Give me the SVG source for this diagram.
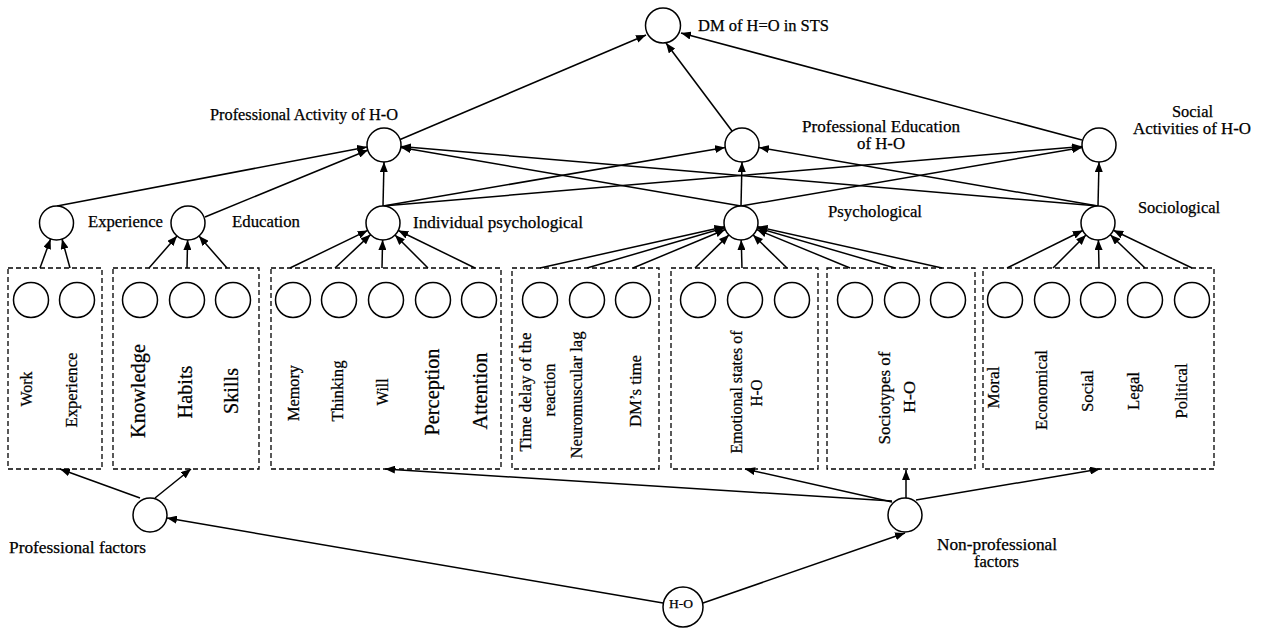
<svg xmlns="http://www.w3.org/2000/svg" width="1262" height="628" viewBox="0 0 1262 628">
  <style>
    .n { fill: #fff; stroke: #000; stroke-width: 1.5; }
    .box { fill: none; stroke: #000; stroke-width: 1.3; stroke-dasharray: 5 3; }
    .t, .v, .vl { font-family: "Liberation Serif", "Times New Roman", serif; fill: #000; stroke: #000; stroke-width: 0.25; }
    .t { font-size: 16px; }
    .v { font-size: 16px; }
    .vl { font-size: 20px; }
    .c line { stroke: #000; stroke-width: 1.5; fill: none; }
    .c line.a { marker-end: url(#ah); }
  </style>
  <defs>
    <marker id="ah" markerUnits="userSpaceOnUse" markerWidth="10" markerHeight="8" refX="10" refY="4" orient="auto">
      <path d="M0,0 L10,4 L0,8 z" fill="#000"/>
    </marker>
  </defs>
  <rect width="1262" height="628" fill="#fff"/>

  <!-- connectors -->
  <g id="connectors" class="c">
    <!-- level 3 -> DM -->
    <line class="a" x1="399" y1="140" x2="646" y2="35"/>
    <line class="a" x1="732" y1="131" x2="666" y2="43"/>
    <line class="a" x1="1082" y1="140" x2="681" y2="33"/>
    <!-- level 2 -> level 3 -->
    <line class="a" x1="57" y1="206" x2="367" y2="147"/>
    <line class="a" x1="205" y1="217" x2="368" y2="150"/>
    <line class="a" x1="383" y1="206" x2="384" y2="162"/>
    <line class="a" x1="383" y1="206" x2="725" y2="147.5"/>
    <line class="a" x1="383" y1="206" x2="1082" y2="146.5"/>
    <line class="a" x1="741" y1="206" x2="401" y2="147.5"/>
    <line class="a" x1="1098" y1="206" x2="401" y2="146.5"/>
    <line class="a" x1="741" y1="206" x2="742" y2="162"/>
    <line class="a" x1="741" y1="206" x2="1082" y2="147.5"/>
    <line class="a" x1="1098" y1="206" x2="1099" y2="162"/>
    <line class="a" x1="1098" y1="206" x2="759" y2="147.5"/>
    <!-- boxes -> level 2 -->
    <line class="a" x1="40" y1="268" x2="50.6" y2="239"/>
    <line class="a" x1="70" y1="268" x2="62" y2="239"/>
    <line class="a" x1="149" y1="268" x2="177" y2="236"/>
    <line class="a" x1="187" y1="268" x2="187.6" y2="240"/>
    <line class="a" x1="227" y1="268" x2="199" y2="236"/>
    <line class="a" x1="290" y1="268" x2="367.7" y2="230.4"/>
    <line class="a" x1="335" y1="268" x2="370.6" y2="234.6"/>
    <line class="a" x1="382" y1="268" x2="382.6" y2="240"/>
    <line class="a" x1="428" y1="268" x2="395" y2="235"/>
    <line class="a" x1="475" y1="268" x2="398.3" y2="230.5"/>
    <line class="a" x1="540" y1="268" x2="724.4" y2="226.7"/>
    <line class="a" x1="587" y1="268" x2="724.7" y2="227.8"/>
    <line class="a" x1="633" y1="268" x2="725.3" y2="229.5"/>
    <line class="a" x1="695" y1="268" x2="728.9" y2="234.9"/>
    <line class="a" x1="742" y1="268" x2="741.2" y2="240"/>
    <line class="a" x1="787" y1="268" x2="753.1" y2="234.9"/>
    <line class="a" x1="850" y1="268" x2="756.7" y2="229.5"/>
    <line class="a" x1="895" y1="268" x2="757.3" y2="227.8"/>
    <line class="a" x1="942" y1="268" x2="757.6" y2="226.7"/>
    <line class="a" x1="1007" y1="268" x2="1082.8" y2="230.5"/>
    <line class="a" x1="1053" y1="268" x2="1086" y2="235"/>
    <line class="a" x1="1099" y1="268" x2="1098.4" y2="240"/>
    <line class="a" x1="1145" y1="268" x2="1110.3" y2="234.8"/>
    <line class="a" x1="1192" y1="268" x2="1113.3" y2="230.3"/>
    <!-- factors -> boxes -->
    <line class="a" x1="140" y1="498" x2="60" y2="469"/>
    <line class="a" x1="155" y1="498" x2="191" y2="469"/>
    <line class="a" x1="892" y1="501" x2="385" y2="469"/>
    <line class="a" x1="892" y1="502" x2="745" y2="469"/>
    <line class="a" x1="906" y1="498" x2="906" y2="470"/>
    <line class="a" x1="916" y1="500" x2="1100" y2="469"/>
    <!-- H-O -> factors -->
    <line class="a" x1="663" y1="603" x2="167" y2="518"/>
    <line class="a" x1="703" y1="603" x2="905" y2="533"/>
  </g>

  <!-- top node -->
  <g id="dm">
    <circle class="n" cx="663" cy="25.5" r="17.5"/>
    <text class="t" x="698" y="31" textLength="131" lengthAdjust="spacingAndGlyphs">DM of H=O in STS</text>
  </g>

  <!-- level 3 nodes -->
  <g id="prof-activity">
    <circle class="n" cx="384" cy="145" r="17"/>
    <text class="t" x="210" y="120" textLength="188" lengthAdjust="spacingAndGlyphs">Professional Activity of H-O</text>
  </g>
  <g id="prof-education">
    <circle class="n" cx="742" cy="145" r="17"/>
    <text class="t" x="802" y="132" textLength="158" lengthAdjust="spacingAndGlyphs">Professional Education</text>
    <text class="t" x="857" y="149" textLength="48" lengthAdjust="spacingAndGlyphs">of H-O</text>
  </g>
  <g id="social-activities">
    <circle class="n" cx="1099" cy="145" r="17"/>
    <text class="t" x="1172" y="117" textLength="41" lengthAdjust="spacingAndGlyphs">Social</text>
    <text class="t" x="1133" y="134" textLength="118" lengthAdjust="spacingAndGlyphs">Activities of H-O</text>
  </g>

  <!-- level 2 nodes -->
  <g id="experience">
    <circle class="n" cx="56.5" cy="223" r="17"/>
    <text class="t" x="88" y="227" textLength="75" lengthAdjust="spacingAndGlyphs">Experience</text>
  </g>
  <g id="education">
    <circle class="n" cx="188" cy="223" r="17"/>
    <text class="t" x="232" y="227" textLength="68" lengthAdjust="spacingAndGlyphs">Education</text>
  </g>
  <g id="individual-psychological">
    <circle class="n" cx="383" cy="223" r="17"/>
    <text class="t" x="413" y="228" textLength="170" lengthAdjust="spacingAndGlyphs">Individual psychological</text>
  </g>
  <g id="psychological">
    <circle class="n" cx="741" cy="223" r="17"/>
    <text class="t" x="828" y="217" textLength="94" lengthAdjust="spacingAndGlyphs">Psychological</text>
  </g>
  <g id="sociological">
    <circle class="n" cx="1098" cy="223" r="17"/>
    <text class="t" x="1138" y="213" textLength="82" lengthAdjust="spacingAndGlyphs">Sociological</text>
  </g>

  <!-- factor groups -->
  <g id="box-work">
    <rect class="box" x="8" y="268" width="94" height="201"/>
    <circle class="n" cx="31" cy="300" r="17.5"/>
    <circle class="n" cx="77" cy="300" r="17.5"/>
    <text class="v" text-anchor="middle" transform="translate(32,389) rotate(-90)" textLength="35" lengthAdjust="spacingAndGlyphs">Work</text>
    <text class="v" text-anchor="middle" transform="translate(77,390) rotate(-90)" textLength="75" lengthAdjust="spacingAndGlyphs">Experience</text>
  </g>
  <g id="box-education">
    <rect class="box" x="113" y="268" width="146" height="201"/>
    <circle class="n" cx="140" cy="300" r="17.5"/>
    <circle class="n" cx="187" cy="300" r="17.5"/>
    <circle class="n" cx="233" cy="300" r="17.5"/>
    <text class="vl" text-anchor="middle" transform="translate(145,391) rotate(-90)" textLength="94" lengthAdjust="spacingAndGlyphs">Knowledge</text>
    <text class="vl" text-anchor="middle" transform="translate(192,392) rotate(-90)" textLength="53" lengthAdjust="spacingAndGlyphs">Habits</text>
    <text class="vl" text-anchor="middle" transform="translate(238,391) rotate(-90)" textLength="46" lengthAdjust="spacingAndGlyphs">Skills</text>
  </g>
  <g id="box-individual">
    <rect class="box" x="271" y="268" width="230" height="201"/>
    <circle class="n" cx="293" cy="300" r="17.5"/>
    <circle class="n" cx="339" cy="300" r="17.5"/>
    <circle class="n" cx="386" cy="300" r="17.5"/>
    <circle class="n" cx="433" cy="300" r="17.5"/>
    <circle class="n" cx="479" cy="300" r="17.5"/>
    <text class="v" text-anchor="middle" transform="translate(299,393) rotate(-90)" textLength="56" lengthAdjust="spacingAndGlyphs">Memory</text>
    <text class="v" text-anchor="middle" transform="translate(343,391) rotate(-90)" textLength="61" lengthAdjust="spacingAndGlyphs">Thinking</text>
    <text class="v" text-anchor="middle" transform="translate(388,392) rotate(-90)" textLength="27" lengthAdjust="spacingAndGlyphs">Will</text>
    <text class="vl" text-anchor="middle" transform="translate(439,392) rotate(-90)" textLength="87" lengthAdjust="spacingAndGlyphs">Perception</text>
    <text class="vl" text-anchor="middle" transform="translate(487,391) rotate(-90)" textLength="77" lengthAdjust="spacingAndGlyphs">Attention</text>
  </g>
  <g id="box-timing">
    <rect class="box" x="512" y="268" width="147" height="201"/>
    <circle class="n" cx="540" cy="300" r="17.5"/>
    <circle class="n" cx="587" cy="300" r="17.5"/>
    <circle class="n" cx="633" cy="300" r="17.5"/>
    <text class="v" text-anchor="middle" transform="translate(531,392) rotate(-90)" textLength="119" lengthAdjust="spacingAndGlyphs">Time delay of the</text>
    <text class="v" text-anchor="middle" transform="translate(555,390) rotate(-90)" textLength="53" lengthAdjust="spacingAndGlyphs">reaction</text>
    <text class="v" text-anchor="middle" transform="translate(582,395) rotate(-90)" textLength="127" lengthAdjust="spacingAndGlyphs">Neuromuscular lag</text>
    <text class="v" text-anchor="middle" transform="translate(641,391) rotate(-90)" textLength="72" lengthAdjust="spacingAndGlyphs">DM’s time</text>
  </g>
  <g id="box-emotional">
    <rect class="box" x="671" y="268" width="147" height="201"/>
    <circle class="n" cx="698" cy="300" r="17.5"/>
    <circle class="n" cx="745" cy="300" r="17.5"/>
    <circle class="n" cx="792" cy="300" r="17.5"/>
    <text class="v" text-anchor="middle" transform="translate(742,392) rotate(-90)" textLength="123" lengthAdjust="spacingAndGlyphs">Emotional states of</text>
    <text class="v" text-anchor="middle" transform="translate(762,393) rotate(-90)" textLength="27" lengthAdjust="spacingAndGlyphs">H-O</text>
  </g>
  <g id="box-sociotypes">
    <rect class="box" x="827" y="268" width="148" height="201"/>
    <circle class="n" cx="855" cy="300" r="17.5"/>
    <circle class="n" cx="902" cy="300" r="17.5"/>
    <circle class="n" cx="948" cy="300" r="17.5"/>
    <text class="v" text-anchor="middle" transform="translate(890,398) rotate(-90)" textLength="93" lengthAdjust="spacingAndGlyphs">Sociotypes of</text>
    <text class="v" text-anchor="middle" transform="translate(915,397) rotate(-90)" textLength="32" lengthAdjust="spacingAndGlyphs">H-O</text>
  </g>
  <g id="box-social">
    <rect class="box" x="983" y="268" width="231" height="201"/>
    <circle class="n" cx="1005" cy="300" r="17.5"/>
    <circle class="n" cx="1052" cy="300" r="17.5"/>
    <circle class="n" cx="1098" cy="300" r="17.5"/>
    <circle class="n" cx="1145" cy="300" r="17.5"/>
    <circle class="n" cx="1192" cy="300" r="17.5"/>
    <text class="v" text-anchor="middle" transform="translate(999,387.5) rotate(-90)" textLength="42" lengthAdjust="spacingAndGlyphs">Moral</text>
    <text class="v" text-anchor="middle" transform="translate(1047,390) rotate(-90)" textLength="80" lengthAdjust="spacingAndGlyphs">Economical</text>
    <text class="v" text-anchor="middle" transform="translate(1093,391) rotate(-90)" textLength="42" lengthAdjust="spacingAndGlyphs">Social</text>
    <text class="v" text-anchor="middle" transform="translate(1139,391) rotate(-90)" textLength="38" lengthAdjust="spacingAndGlyphs">Legal</text>
    <text class="v" text-anchor="middle" transform="translate(1187,391) rotate(-90)" textLength="55" lengthAdjust="spacingAndGlyphs">Political</text>
  </g>

  <!-- factor nodes -->
  <g id="professional-factors">
    <circle class="n" cx="150" cy="515" r="17"/>
    <text class="t" x="9" y="553" textLength="137" lengthAdjust="spacingAndGlyphs">Professional factors</text>
  </g>
  <g id="non-professional-factors">
    <circle class="n" cx="905" cy="515" r="17"/>
    <text class="t" x="937" y="550" textLength="120" lengthAdjust="spacingAndGlyphs">Non-professional</text>
    <text class="t" x="974" y="567" textLength="45" lengthAdjust="spacingAndGlyphs">factors</text>
  </g>
  <g id="h-o">
    <circle class="n" cx="683" cy="607" r="20"/>
    <text class="t" x="681" y="608" text-anchor="middle" style="font-size:12px" textLength="24" lengthAdjust="spacingAndGlyphs">H-O</text>
  </g>
</svg>
